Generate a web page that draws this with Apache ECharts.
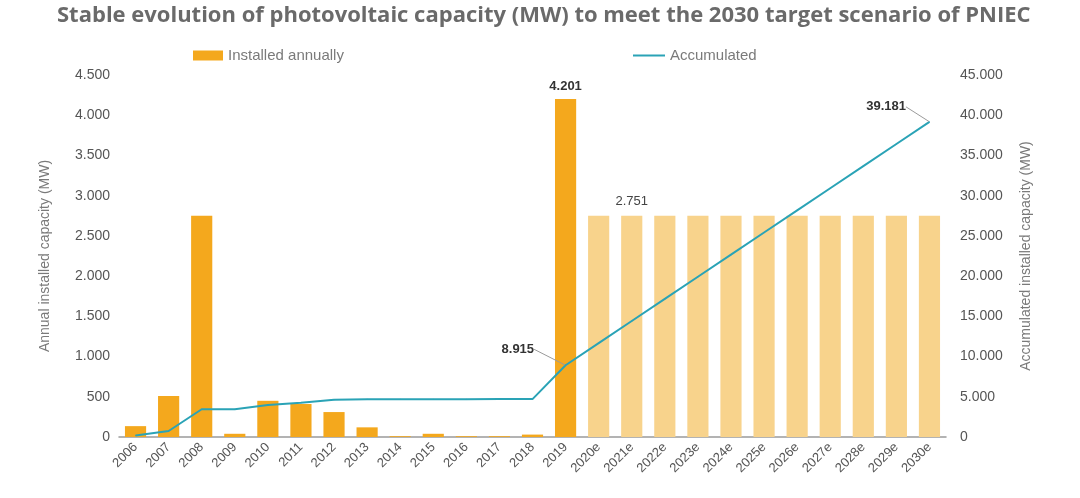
<!DOCTYPE html>
<html><head><meta charset="utf-8">
<script src="https://cdn.jsdelivr.net/npm/echarts@6/dist/echarts.min.js"></script>
<style>html,body{margin:0;padding:0;background:#fff}#c{width:1080px;height:498px}</style>
</head><body><div id="c"></div>
<script>
const categories = ['2006','2007','2008','2009','2010','2011','2012','2013','2014','2015','2016','2017','2018','2019','2020e','2021e','2022e','2023e','2024e','2025e','2026e','2027e','2028e','2029e','2030e'];
const annual = [135, 510, 2750, 40, 450, 410, 310, 120, 10, 40, 10, 10, 30, 4201, 2751, 2751, 2751, 2751, 2751, 2751, 2751, 2751, 2751, 2751, 2751];
const accumulated = [200, 750, 3450, 3460, 3980, 4270, 4640, 4690, 4700, 4705, 4708, 4710, 4714, 8915, 11666, 14417, 17168, 19919, 22670, 25421, 28172, 30923, 33674, 36425, 39181];
const firstForecast = 14;
const leftTicks = {min: 0, max: 4500, interval: 500};
const rightTicks = {min: 0, max: 45000, interval: 5000};

const fmt = v => String(v).replace(/\B(?=(\d{3})+(?!\d))/g, '.');
const gray = '#7a7a7a';
const font = 'Liberation Sans';
const teal = '#2AA3B6';
// label shifts (pixels) for the annotated points of the accumulated line
const labelShift = {13: [-26, -16], 24: [-18, -15]};

const barData = annual.map((v, i) => {
  const d = {value: v, itemStyle: {color: i >= firstForecast ? '#F8D38C' : '#F4A81D'}};
  if (i === 13) d.label = {show: true, position: 'top', fontWeight: 'bold', color: '#333', fontSize: 13, fontFamily: font, formatter: p => fmt(p.value), distance: 6};
  if (i === 15) d.label = {show: true, position: 'top', color: '#444', fontSize: 13, fontFamily: font, formatter: p => fmt(p.value), distance: 8};
  return d;
});
const lineData = accumulated.map((v, i) => {
  const d = {value: v};
  if (labelShift[i]) {
    d.label = {show: true, position: 'left', distance: 5, fontWeight: 'bold', color: '#333', fontSize: 13, fontFamily: font, formatter: p => fmt(p.value)};
    d.labelLine = {show: true, lineStyle: {color: '#9a9a9a', width: 1}};
  }
  return d;
});

const chart = echarts.init(document.getElementById('c'));
chart.setOption({
  animation: false,
  title: {text: 'Stable evolution of photovoltaic capacity (MW) to meet the 2030 target scenario of PNIEC', left: 52, top: 0,
    textStyle: {fontFamily: 'Open Sans', fontWeight: 'bold', fontSize: 22, color: '#6a6a6a'}},
  legend: [
    {data: ['Installed annually'], left: 188, top: 43, itemWidth: 30, itemHeight: 10, icon: 'rect', itemGap: 12,
      textStyle: {fontFamily: font, fontSize: 15, color: gray}},
    {data: ['Accumulated'], left: 628, top: 43, itemWidth: 32, itemHeight: 2, icon: 'rect', itemGap: 12,
      itemStyle: {color: teal, opacity: 1}, lineStyle: {color: teal},
      textStyle: {fontFamily: font, fontSize: 15, color: gray}}
  ],
  grid: {left: 119, right: 134, top: 75, bottom: 61, containLabel: false},
  xAxis: {type: 'category', data: categories, boundaryGap: true,
    axisLine: {lineStyle: {color: '#9a9a9a', width: 1.5}}, axisTick: {show: false},
    axisLabel: {rotate: 45, color: '#555', fontFamily: font, fontSize: 13, interval: 0, margin: 8}},
  yAxis: [
    {type: 'value', min: leftTicks.min, max: leftTicks.max, interval: leftTicks.interval, position: 'left',
      name: 'Annual installed capacity (MW)', nameLocation: 'middle', nameGap: 67, nameRotate: 90,
      nameTextStyle: {fontFamily: font, fontSize: 14, color: gray},
      axisLine: {show: false}, axisTick: {show: false}, splitLine: {show: false},
      axisLabel: {formatter: fmt, color: '#555', fontFamily: font, fontSize: 14, margin: 9}},
    {type: 'value', min: rightTicks.min, max: rightTicks.max, interval: rightTicks.interval, position: 'right',
      name: 'Accumulated installed capacity (MW)', nameLocation: 'middle', nameGap: 73, nameRotate: 90,
      nameTextStyle: {fontFamily: font, fontSize: 14, color: gray},
      axisLine: {show: false}, axisTick: {show: false}, splitLine: {show: false},
      axisLabel: {formatter: fmt, color: '#555', fontFamily: font, fontSize: 14, margin: 14}}
  ],
  series: [
    {name: 'Installed annually', type: 'bar', yAxisIndex: 0, data: barData, barWidth: '64%', itemStyle: {color: '#F4A81D'}},
    {name: 'Accumulated', type: 'line', yAxisIndex: 1, data: lineData, showSymbol: true, symbol: 'circle', symbolSize: 1,
      lineStyle: {color: teal, width: 2}, itemStyle: {color: teal}, z: 5,
      labelLayout: function (params) {
        const s = labelShift[params.dataIndex];
        if (!s) return {};
        const r = params.labelRect, p = params.rect;
        const rx = r.x + s[0] + r.width, cy = r.y + s[1] + r.height / 2;
        return {
          dx: s[0], dy: s[1],
          labelLinePoints: [[rx + 3, cy], [rx + 11, cy], [p.x + p.width / 2 - 1, p.y + p.height / 2 - 2]]
        };
      }}
  ]
});
</script></body></html>
